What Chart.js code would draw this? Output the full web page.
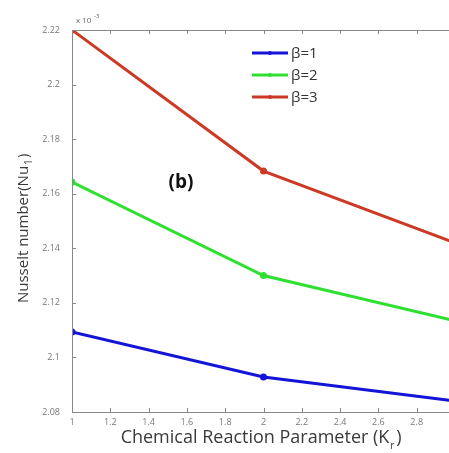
<!DOCTYPE html>
<html>
<head>
<meta charset="utf-8">
<script src="https://cdn.jsdelivr.net/npm/chart.js@4"></script>
<style>
  html, body { margin: 0; padding: 0; background: #fff; overflow: hidden; }
  #wrap { width: 449px; height: 453px; overflow: hidden; }
</style>
</head>
<body>
<div id="wrap"><canvas id="chart" width="460" height="453"></canvas></div>
<script>
const kValues = [1, 2, 3];
const beta1 = [2.1093, 2.0928, 2.0840];
const beta2 = [2.1643, 2.1300, 2.1134];
const beta3 = [2.2200, 2.1683, 2.1420];
const seriesLabels = ['β=1', 'β=2', 'β=3'];
const yTicks = [2.08, 2.1, 2.12, 2.14, 2.16, 2.18, 2.2, 2.22];
const xTicks = [1, 1.2, 1.4, 1.6, 1.8, 2, 2.2, 2.4, 2.6, 2.8, 3];

const colors = ['#1414d8', '#30e030', '#cc3a26'];
const FONT = '"Open Sans", "DejaVu Sans", sans-serif';

const toPts = (arr) => arr.map((v, i) => ({ x: kValues[i], y: v }));

// box, inward ticks, titles, legend and labels drawn on the canvas
const decor = {
  id: 'decor',
  afterDraw(chart) {
    const { ctx, chartArea: a, scales: { x, y } } = chart;
    ctx.save();
    ctx.strokeStyle = '#888';
    ctx.lineWidth = 1;
    ctx.strokeRect(a.left + 0.5, a.top + 0.5, a.right - a.left, a.bottom - a.top);
    ctx.beginPath();
    xTicks.forEach(t => {
      const px = Math.round(x.getPixelForValue(t)) + 0.5;
      ctx.moveTo(px, a.bottom); ctx.lineTo(px, a.bottom - 4);
      ctx.moveTo(px, a.top); ctx.lineTo(px, a.top + 4);
    });
    yTicks.forEach(t => {
      const py = Math.round(y.getPixelForValue(t)) + 0.5;
      ctx.moveTo(a.left, py); ctx.lineTo(a.left + 4, py);
      ctx.moveTo(a.right, py); ctx.lineTo(a.right - 4, py);
    });
    ctx.stroke();

    // exponent
    ctx.fillStyle = '#666';
    ctx.font = `8px ${FONT}`;
    ctx.textBaseline = 'alphabetic';
    ctx.fillText('x 10', a.left + 4, a.top - 7);
    ctx.font = `6px ${FONT}`;
    ctx.fillText('-3', a.left + 22, a.top - 12);

    // x title
    ctx.fillStyle = '#3a3a3a';
    ctx.font = `18px ${FONT}`;
    ctx.textAlign = 'left';
    const xt = 'Chemical Reaction Parameter (K';
    const xw = ctx.measureText(xt).width;
    const x0 = 262 - (xw + 14) / 2;
    ctx.fillText(xt, x0, 443);
    ctx.font = `10px ${FONT}`;
    ctx.fillText('r', x0 + xw + 1, 449);
    ctx.font = `18px ${FONT}`;
    ctx.fillText(')', x0 + xw + 7, 443);

    // y title
    ctx.save();
    ctx.translate(28, 228);
    ctx.rotate(-Math.PI / 2);
    ctx.font = `15px ${FONT}`;
    const yt = 'Nusselt number(Nu';
    const yw = ctx.measureText(yt).width;
    const y0 = -(yw + 13) / 2;
    ctx.fillText(yt, y0, 0);
    ctx.font = `10px ${FONT}`;
    ctx.fillText('1', y0 + yw + 1, 4);
    ctx.font = `15px ${FONT}`;
    ctx.fillText(')', y0 + yw + 8, 0);
    ctx.restore();

    // (b)
    ctx.fillStyle = '#111';
    ctx.font = `bold 19px ${FONT}`;
    ctx.textAlign = 'center';
    ctx.textBaseline = 'middle';
    ctx.fillText('(b)', 181, 183);

    // legend
    ctx.textAlign = 'left';
    ctx.font = `15px ${FONT}`;
    chart.data.datasets.forEach((ds, i) => {
      const ly = 53 + i * 22;
      ctx.strokeStyle = ds.borderColor;
      ctx.lineWidth = 3;
      ctx.beginPath(); ctx.moveTo(252, ly); ctx.lineTo(288, ly); ctx.stroke();
      ctx.fillStyle = ds.borderColor;
      ctx.beginPath(); ctx.arc(270, ly, 2, 0, Math.PI * 2); ctx.fill();
      ctx.fillStyle = '#333';
      ctx.fillText(ds.label, 291, ly + 1);
    });
    ctx.restore();
  }
};

new Chart(document.getElementById('chart'), {
  type: 'line',
  data: {
    datasets: [beta1, beta2, beta3].map((d, i) => ({
      label: seriesLabels[i],
      data: toPts(d),
      borderColor: colors[i],
      backgroundColor: colors[i],
      borderWidth: 3,
      pointRadius: 2,
      pointHoverRadius: 2,
      tension: 0
    }))
  },
  options: {
    responsive: false,
    animation: false,
    events: [],
    layout: { padding: { top: 30, right: 4, left: 0, bottom: 0 } },
    plugins: { legend: { display: false }, tooltip: { enabled: false } },
    scales: {
      x: {
        type: 'linear', min: 1, max: 3,
        afterBuildTicks: s => { s.ticks = xTicks.map(v => ({ value: v })); },
        afterFit: s => { s.height = 41; },
        grid: { display: false },
        border: { display: false },
        ticks: {
          color: '#777', font: { size: 9, family: FONT }, padding: -3, maxRotation: 0,
          callback: v => String(Number(v.toFixed(2)))
        }
      },
      y: {
        min: 2.08, max: 2.22,
        afterBuildTicks: s => { s.ticks = yTicks.map(v => ({ value: v })); },
        afterFit: s => { s.width = 72; },
        grid: { display: false },
        border: { display: false },
        ticks: {
          color: '#777', font: { size: 9, family: FONT }, padding: 4,
          callback: v => String(Number(v.toFixed(2)))
        }
      }
    }
  },
  plugins: [decor]
});
</script>
</body>
</html>
